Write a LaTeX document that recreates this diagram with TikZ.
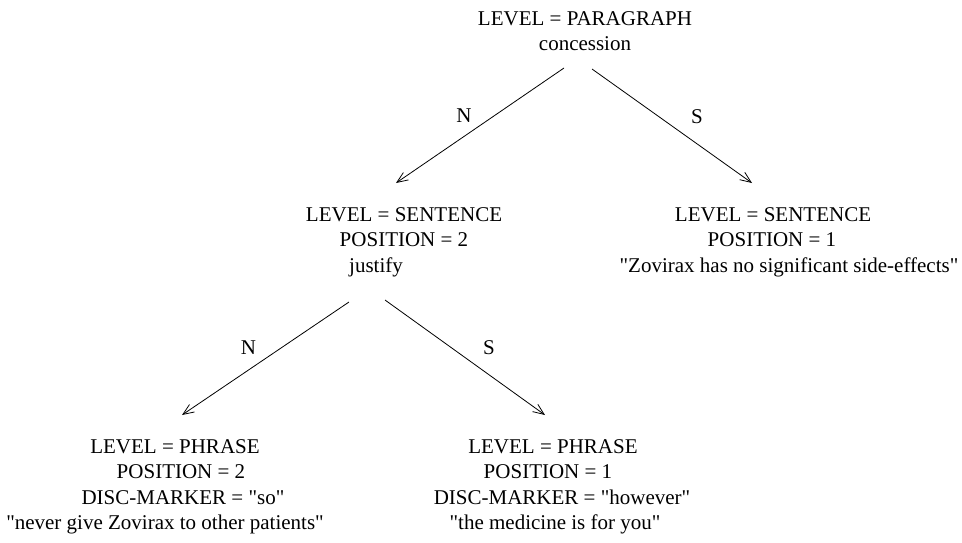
\documentclass[tikz,border=0pt]{standalone}
\usepackage{fontspec}
\setmainfont{Liberation Serif}
\usetikzlibrary{arrows.meta, calc}
\tikzset{
    span/.style={align=center, inner sep=0pt, anchor=north, font=\fontsize{21}{25.5}\selectfont},
    rel/.style={inner sep=0pt, font=\fontsize{21}{25.5}\selectfont}
}
% straight quotes, and a line moved sideways inside its node
\newcommand{\qt}[1]{\textquotedbl#1\textquotedbl}
\newcommand{\nudge}[2]{\makebox[0pt][l]{\kern#1\relax#2}\phantom{#2}}

\begin{document}
\begin{tikzpicture}[
        x=1pt, y=-1pt,
        -{Straight Barb[length=11pt,width=9pt]}, line width=0.8pt
    ]
        \useasboundingbox (0,0) rectangle (962,542);

        \node[span] (P) at (585,11) {LEVEL = PARAGRAPH\\concession};
        \node[span] (SL) at (404,207) {LEVEL = SENTENCE\\POSITION = 2\\\nudge{-28pt}{justify}};
        \node[span] (SR) at (773,207) {LEVEL = SENTENCE\\\nudge{-1pt}{POSITION = 1}\\\nudge{16pt}{\qt{Zovirax has no significant side-effects}}};
        \node[span] (HL) at (175,439) {LEVEL = PHRASE\\\nudge{6pt}{POSITION = 2}\\\nudge{8pt}{DISC-MARKER = \qt{so}}\\\nudge{-10pt}{\qt{never give Zovirax to other patients}}};
        \node[span] (HR) at (553,439) {LEVEL = PHRASE\\\nudge{-5pt}{POSITION = 1}\\\nudge{9pt}{DISC-MARKER = \qt{however}}\\\nudge{2pt}{\qt{the medicine is for you}}};

        \path ($(P.north)+(-21,57)$) edge node[rel, xshift=-16pt, yshift=10pt] {N} ($(SL.north)+(-8,-24)$)
              ($(P.north)+(7,58)$) edge node[rel, xshift=25pt, yshift=9pt] {S} ($(SR.north)+(-21,-24)$)
              ($(SL.north)+(-55,95)$) edge node[rel, xshift=-17pt, yshift=11pt] {N} ($(HL.north)+(7,-24)$)
              ($(SL.north)+(-19,93)$) edge node[rel, xshift=24pt, yshift=10pt] {S} ($(HR.north)+(-8,-24)$);
    \end{tikzpicture}
\end{document}
